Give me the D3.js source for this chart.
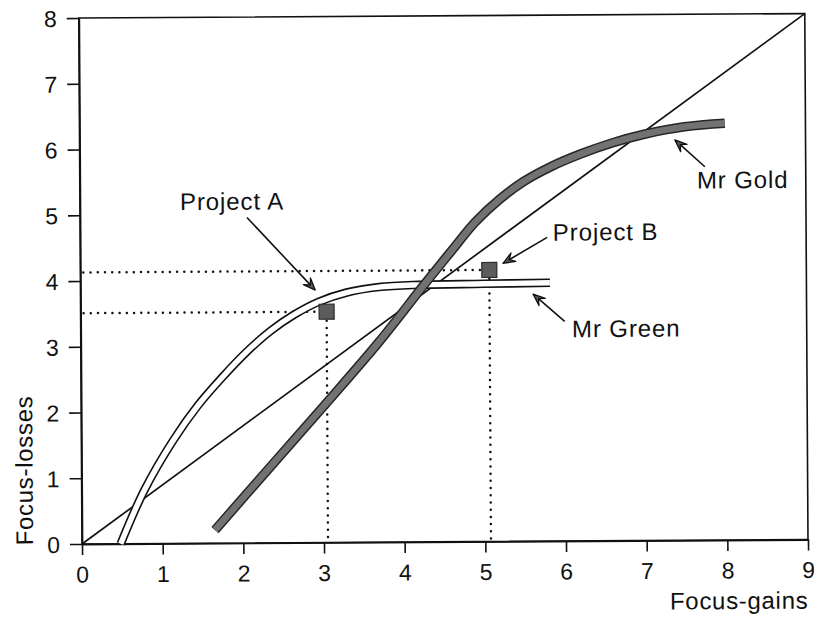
<!DOCTYPE html>
<html>
<head>
<meta charset="utf-8">
<script src="https://cdn.jsdelivr.net/npm/d3@7"></script>
<style>
  html, body { margin: 0; padding: 0; background: #fff; }
  svg { display: block; }
  text { font-family: "Liberation Sans", Arial, Helvetica, sans-serif; fill: #111; }
</style>
</head>
<body>
<svg id="chart" width="814" height="618"></svg>
<script>
// ---------- data ----------
const xTicks = [0, 1, 2, 3, 4, 5, 6, 7, 8, 9];
const yTicks = [0, 1, 2, 3, 4, 5, 6, 7, 8];
const xTitle = "Focus-gains";
const yTitle = "Focus-losses";

// diagonal reference line
const diagonal = [[0, 0], [9, 8]];

// Mr Green (hollow curve)
const greenCurve = [
  [0.48, 0.00], [0.78, 0.82], [1.14, 1.57], [1.45, 2.10], [1.75, 2.52],
  [2.05, 2.90], [2.35, 3.22], [2.65, 3.47], [2.95, 3.66], [3.30, 3.80],
  [3.70, 3.88], [4.20, 3.91], [5.00, 3.92], [5.82, 3.93]
];

// Mr Gold (thick grey curve)
const goldCurve = [
  [1.65, 0.20], [2.30, 1.10], [3.04, 2.12], [3.70, 3.05], [4.26, 3.91],
  [4.60, 4.42], [4.90, 4.86], [5.20, 5.20], [5.50, 5.47], [5.85, 5.70],
  [6.20, 5.88], [6.60, 6.05], [7.00, 6.18], [7.50, 6.29], [8.00, 6.34]
];

// projects (focus-gain, focus-loss)
const projectNames = ["Project A", "Project B"];
const projectGains = [3.05, 5.07];
const projectLosses = [3.51, 4.13];

// annotations: label, text anchor point, arrow start, arrow tip (data units)
const annLabels = ["Project A", "Project B", "Mr Green", "Mr Gold"];
const annText = [[1.24, 5.07], [5.86, 4.57], [6.09, 3.10], [7.65, 5.35]];
const annFrom = [[2.07, 4.95], [5.79, 4.62], [6.00, 3.34], [7.75, 5.68]];
const annTo = [[2.91, 3.84], [5.24, 4.23], [5.61, 3.76], [7.38, 6.09]];

// ---------- drawing ----------
const svg = d3.select("#chart");
const X0 = 82, X1 = 808, Y0 = 544, Y1 = 18;
const x = d3.scaleLinear().domain([0, 9]).range([X0, X1]);
const y = d3.scaleLinear().domain([0, 8]).range([Y0, Y1]);

// whole scanned figure is slightly tilted
const g = svg.append("g").attr("transform", `rotate(-0.35, ${X0}, ${Y0})`);

// frame (top and right borders)
g.append("rect")
  .attr("x", x(0)).attr("y", y(8))
  .attr("width", x(9) - x(0)).attr("height", y(0) - y(8))
  .attr("fill", "none").attr("stroke", "#111").attr("stroke-width", 1.6);

// axes
const xAxis = g.append("g").attr("transform", `translate(0,${Y0})`)
  .call(d3.axisBottom(x).tickValues(xTicks).tickFormat(d3.format("d")).tickSize(11).tickSizeOuter(0));
const yAxis = g.append("g").attr("transform", `translate(${X0},0)`)
  .call(d3.axisLeft(y).tickValues(yTicks).tickFormat(d3.format("d")).tickSize(12).tickSizeOuter(0));

[xAxis, yAxis].forEach(a => {
  a.select(".domain").attr("stroke", "#111").attr("stroke-width", 1.8);
  a.selectAll(".tick line").attr("stroke", "#111").attr("stroke-width", 1.6);
  a.selectAll(".tick text").attr("fill", "#111")
    .style("font-family", '"Liberation Sans", Arial, Helvetica, sans-serif');
});
xAxis.selectAll(".tick text").attr("y", 38.5).attr("dy", null).attr("font-size", 23);
yAxis.selectAll(".tick text").attr("x", -22).attr("dy", "0.36em").attr("font-size", 23);

// axis titles
g.append("text")
  .attr("x", X1).attr("y", Y0 + 69)
  .attr("text-anchor", "end").attr("font-size", 24).attr("letter-spacing", 0.7)
  .text(xTitle);
g.append("text")
  .attr("transform", `translate(${X0 - 49},${Y0 + 1}) rotate(-90)`)
  .attr("text-anchor", "start").attr("font-size", 24).attr("letter-spacing", 0.7)
  .text(yTitle);

// dotted guide lines
const dotted = g.append("g").attr("fill", "none").attr("stroke", "#111")
  .attr("stroke-width", 2.5).attr("stroke-linecap", "round").attr("stroke-dasharray", "0.01 7.2");
projectGains.forEach((gx, i) => {
  const ly = projectLosses[i];
  dotted.append("line").attr("x1", x(0) + 3).attr("y1", y(ly)).attr("x2", x(gx) - 6).attr("y2", y(ly));
  dotted.append("line").attr("x1", x(gx)).attr("y1", y(ly) + 9).attr("x2", x(gx)).attr("y2", y(0) - 2);
});

// diagonal line
g.append("line")
  .attr("x1", x(diagonal[0][0])).attr("y1", y(diagonal[0][1]))
  .attr("x2", x(diagonal[1][0])).attr("y2", y(diagonal[1][1]))
  .attr("stroke", "#111").attr("stroke-width", 1.7);

const line = d3.line().x(d => x(d[0])).y(d => y(d[1])).curve(d3.curveCatmullRom.alpha(0.5));

// Mr Green hollow line
g.append("path").attr("d", line(greenCurve))
  .attr("fill", "none").attr("stroke", "#111").attr("stroke-width", 8.6).attr("stroke-linecap", "butt");
g.append("path").attr("d", line(greenCurve))
  .attr("fill", "none").attr("stroke", "#fff").attr("stroke-width", 5.4).attr("stroke-linecap", "butt");

// project squares
g.selectAll("rect.proj").data(projectGains).join("rect")
  .attr("class", "proj")
  .attr("x", d => x(d) - 7.5)
  .attr("y", (d, i) => y(projectLosses[i]) - 7.5)
  .attr("width", 15).attr("height", 15)
  .attr("fill", "#5c5c5c").attr("stroke", "#2a2a2a").attr("stroke-width", 1.2);

// Mr Gold thick line
g.append("path").attr("d", line(goldCurve))
  .attr("fill", "none").attr("stroke", "#262626").attr("stroke-width", 9.6).attr("stroke-linecap", "butt");
g.append("path").attr("d", line(goldCurve))
  .attr("fill", "none").attr("stroke", "#727272").attr("stroke-width", 6.6).attr("stroke-linecap", "butt");

// annotations
annLabels.forEach((lab, i) => {
  g.append("text")
    .attr("x", x(annText[i][0])).attr("y", y(annText[i][1]))
    .attr("font-size", 24).attr("letter-spacing", 0.9)
    .text(lab);
  const sx = x(annFrom[i][0]), sy = y(annFrom[i][1]);
  const tx = x(annTo[i][0]), ty = y(annTo[i][1]);
  const ang = Math.atan2(ty - sy, tx - sx);
  const L = 13, a = 0.38;
  const b1 = [tx - L * Math.cos(ang - a), ty - L * Math.sin(ang - a)];
  const b2 = [tx - L * Math.cos(ang + a), ty - L * Math.sin(ang + a)];
  const notch = [tx - 0.55 * L * Math.cos(ang), ty - 0.55 * L * Math.sin(ang)];
  g.append("line").attr("x1", sx).attr("y1", sy).attr("x2", notch[0]).attr("y2", notch[1])
    .attr("stroke", "#111").attr("stroke-width", 1.6);
  g.append("path")
    .attr("d", `M${tx},${ty}L${b1[0]},${b1[1]}L${notch[0]},${notch[1]}L${b2[0]},${b2[1]}Z`)
    .attr("fill", "#555").attr("stroke", "#111").attr("stroke-width", 1.3).attr("stroke-linejoin", "round");
});
</script>
</body>
</html>
